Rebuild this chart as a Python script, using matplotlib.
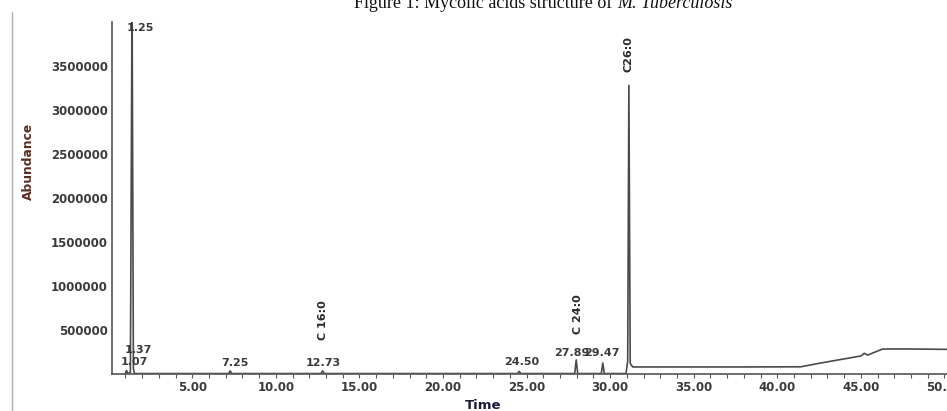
import matplotlib
matplotlib.use("Agg")
import matplotlib.pyplot as plt
from matplotlib.lines import Line2D

# ---- data ----
trace_time = [1.00, 1.07, 1.14, 1.30, 1.40, 1.48, 1.55,
              7.17, 7.27, 7.37, 12.70, 12.80, 12.90, 24.46, 24.56, 24.66,
              27.88, 27.97, 28.06, 29.47, 29.56, 29.65,
              30.95, 31.05, 31.12, 31.20, 31.35,
              33.0, 38.0, 41.4, 42.6, 43.8, 45.0, 45.2, 45.4, 46.3, 48.0, 50.15]
trace_abund = [5000, 40000, 5000, 20000, 4300000, 60000, 5000,
               5000, 35000, 5000, 5000, 35000, 5000, 5000, 30000, 5000,
               5000, 160000, 5000, 5000, 125000, 5000,
               5000, 150000, 3280000, 120000, 80000,
               80000, 80000, 82000, 125000, 165000, 205000, 235000, 215000,
               284000, 284000, 280000]

rt_labels = ["1.25", "1.37", "1.07", "7.25", "12.73", "24.50", "27.89", "29.47"]
rt_pos = [(1.89, 3930000), (1.77, 273000), (1.53, 136000), (7.57, 125000),
          (12.83, 125000), (24.73, 136000), (27.73, 239000), (29.52, 239000)]

fa_labels = ["C 16:0", "C 24:0", "C26:0"]
fa_pos = [(12.83, 614000), (28.08, 682000), (31.08, 3630000)]

x_ticks = [5, 10, 15, 20, 25, 30, 35, 40, 45, 50]
y_ticks = [500000, 1000000, 1500000, 2000000, 2500000, 3000000, 3500000]

# ---- figure ----
W, H = 947, 411
fig = plt.figure(figsize=(W / 100, H / 100), dpi=100)
ax = fig.add_axes([112 / W, 1 - 374 / H, 1 - 112 / W, (374 - 22) / H])

gray = "#555555"
ax.plot(trace_time, trace_abund, color="#4a4a4a", lw=1.2)

ax.set_xlim(0.2, 50.15)
ax.set_ylim(0, 4000000)

for s in ["top", "right"]:
    ax.spines[s].set_visible(False)
for s in ["left", "bottom"]:
    ax.spines[s].set_color(gray)
    ax.spines[s].set_linewidth(1.2)

ax.set_xticks(x_ticks)
ax.set_xticklabels([f"{t:.2f}" for t in x_ticks])
ax.set_xticks(range(1, 51), minor=True)
ax.set_yticks(y_ticks)
ax.set_yticklabels([str(v) for v in y_ticks])

ax.tick_params(axis="x", which="both", direction="out", length=3, width=0.8,
               color=gray, pad=2)
ax.tick_params(axis="y", length=0, pad=3)
for lab in ax.get_xticklabels() + ax.get_yticklabels():
    lab.set_fontsize(8.5)
    lab.set_fontweight("bold")
    lab.set_color("#3a3a3a")

# peak annotations
for txt, (x, y) in zip(rt_labels, rt_pos):
    ax.text(x, y, txt, ha="center", va="center", fontsize=8,
            fontweight="bold", color="#3a3a3a")
for txt, (x, y) in zip(fa_labels, fa_pos):
    ax.text(x, y, txt, ha="center", va="center", rotation=90, fontsize=8,
            fontweight="bold", color="#2a2a2a")

# axis titles
fig.text(28 / W, 1 - 161 / H, "Abundance", rotation=90, ha="center",
         va="center", fontsize=8.8, fontweight="bold", color="#5a2e20")
fig.text(483 / W, 1 - 405 / H, "Time", ha="center", va="center",
         fontsize=9.5, fontweight="bold", color="#1a1a3a")

# caption (cut off at the top of the picture)
fig.text(612 / W, 1 - 8 / H, "Figure 1: Mycolic acids structure of", ha="right",
         va="baseline", fontsize=13, family="Liberation Serif", color="#111111")
fig.text(617 / W, 1 - 8 / H, "M. Tuberculosis", ha="left", va="baseline",
         fontsize=13, family="Liberation Serif", style="italic", color="#111111")

# frame line on the left of the scan
fig.add_artist(Line2D([12 / W, 12 / W], [0, 1 - 12 / H], transform=fig.transFigure,
                      color="#b0b0b0", lw=1))

fig.savefig("out.png", dpi=100)
